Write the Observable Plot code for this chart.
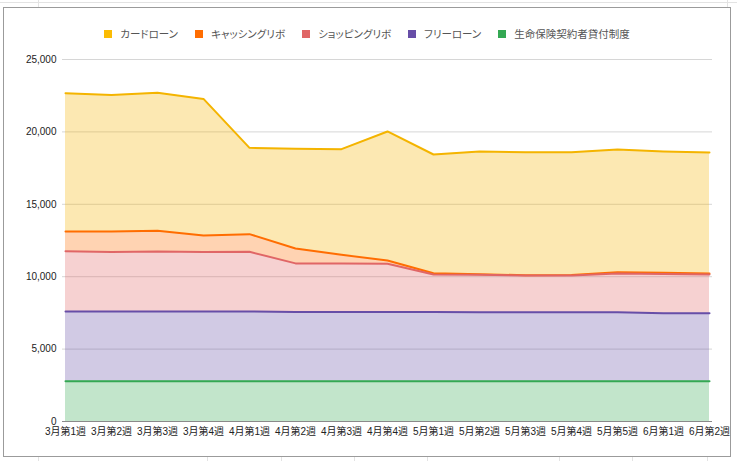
<!DOCTYPE html>
<html>
<head>
<meta charset="utf-8">
<script src="https://cdn.jsdelivr.net/npm/d3@7"></script>
<script src="https://cdn.jsdelivr.net/npm/@observablehq/plot@0.6"></script>
<style>
  html, body { margin: 0; padding: 0; background: #fff; }
  body { width: 737px; height: 461px; position: relative; overflow: hidden;
         font-family: "Liberation Sans", Arial, "Noto Sans CJK JP", sans-serif; }
  .cellline { position: absolute; background: #e3e3e3; }
  #frame { position: absolute; left: 3px; top: 7px; width: 726px; height: 448px;
           border: 1px solid #9b9b9b; background: #fff; }
  #legend { position: absolute; left: 3px; top: 26px; width: 728px; display: flex;
            justify-content: center; gap: 17px; font-size: 10.5px; color: #555;
            font-feature-settings: "palt"; }
  #legend .item { display: flex; align-items: center; gap: 8px; }
  #legend .sw { width: 8px; height: 8px; display: inline-block; }
  #chart { position: absolute; left: 0; top: 45px; }
</style>
</head>
<body>
<div class="cellline" style="left:0;top:2px;width:737px;height:1px"></div>
<div class="cellline" style="left:38px;top:0;width:1px;height:7px"></div>
<div class="cellline" style="left:727px;top:0;width:1px;height:7px"></div>
<div class="cellline" style="left:38px;top:456px;width:1px;height:5px"></div>
<div class="cellline" style="left:207px;top:456px;width:1px;height:5px"></div>
<div class="cellline" style="left:281px;top:456px;width:1px;height:5px"></div>
<div class="cellline" style="left:354px;top:456px;width:1px;height:5px"></div>
<div class="cellline" style="left:427px;top:456px;width:1px;height:5px"></div>
<div class="cellline" style="left:559px;top:456px;width:1px;height:5px"></div>
<div class="cellline" style="left:632px;top:456px;width:1px;height:5px"></div>
<div class="cellline" style="left:707px;top:456px;width:1px;height:5px"></div>
<div id="frame"></div>
<div id="legend"></div>
<div id="chart"></div>
<script>
const weeks = ["3月第1週","3月第2週","3月第3週","3月第4週","4月第1週","4月第2週","4月第3週","4月第4週",
               "5月第1週","5月第2週","5月第3週","5月第4週","5月第5週","6月第1週","6月第2週"];
const seriesNames = ["カードローン","キャッシングリボ","ショッピングリボ","フリーローン","生命保険契約者貸付制度"];
const seriesColors = ["#f4b400","#ff6d01","#e06666","#674ea7","#34a853"];

const cardLoan    = [9550,9420,9530,9430,5960,6890,7300,8910,8200,8480,8500,8480,8470,8380,8360];
const cashingRevo = [1360,1420,1430,1150,1220,1030,600,230,90,40,20,40,90,90,60];
const shoppingRevo= [4160,4100,4140,4100,4120,3350,3340,3320,2580,2590,2540,2540,2680,2700,2690];
const freeLoan    = [4820,4820,4820,4820,4820,4790,4790,4790,4790,4760,4760,4760,4760,4700,4690];
const insuranceLoan=[2780,2780,2780,2780,2780,2780,2780,2780,2780,2780,2780,2780,2780,2780,2780];

const yTicks = [0,5000,10000,15000,20000,25000];

const seriesValues = [cardLoan, cashingRevo, shoppingRevo, freeLoan, insuranceLoan];
const data = seriesNames.flatMap((s, i) => weeks.map((w, j) => ({week: w, series: s, value: seriesValues[i][j]})));
const stackOrder = seriesNames.slice().reverse();

// legend
const legend = document.getElementById("legend");
seriesNames.forEach((s, i) => {
  const it = document.createElement("span");
  it.className = "item";
  const sw = document.createElement("span");
  sw.className = "sw";
  sw.style.background = i === 0 ? "#fbbc04" : seriesColors[i];
  const t = document.createElement("span");
  t.textContent = s;
  it.appendChild(sw); it.appendChild(t);
  legend.appendChild(it);
});

const chart = Plot.plot({
  width: 737,
  height: 416,
  marginLeft: 62,
  marginRight: 25,
  marginTop: 14,
  marginBottom: 40,
  style: {fontFamily: '"Liberation Sans", Arial, "Noto Sans CJK JP", sans-serif', fontSize: "10px", color: "#222", background: "transparent", overflow: "visible"},
  x: {type: "point", domain: weeks, padding: 0, label: null, axis: null},
  y: {domain: [0, 25000], label: null, axis: null},
  color: {domain: seriesNames, range: seriesColors},
  marks: [
    Plot.gridY(yTicks, {stroke: "#d6d6d6", strokeOpacity: 1}),
    Plot.areaY(data, Plot.stackY({x: "week", y: "value", fill: "series", order: stackOrder, fillOpacity: 0.3})),
    Plot.lineY(data, Plot.stackY2({x: "week", y: "value", z: "series", stroke: "series", order: stackOrder, strokeWidth: 2})),
    Plot.ruleY([0], {stroke: "#8a8a8a"}),
    Plot.axisY(yTicks, {tickSize: 0, tickPadding: 6, tickFormat: d3.format(","), label: null, fill: "#222"}),
    Plot.axisX({tickSize: 0, tickPadding: 6, label: null, fill: "#222"})
  ]
});
document.getElementById("chart").appendChild(chart);
</script>
</body>
</html>
